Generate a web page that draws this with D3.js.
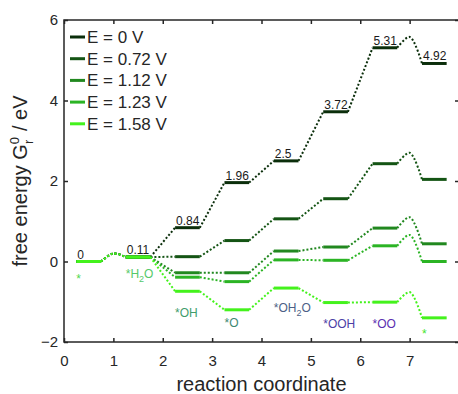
<!DOCTYPE html>
<html>
<head>
<meta charset="utf-8">
<script src="https://cdn.jsdelivr.net/npm/d3@7"></script>
<style>
    body { margin: 0; background: #fff; }
    svg text { font-family: "Liberation Sans", Arial, Helvetica, sans-serif; }
</style>
</head>
<body>
<div class="chart"></div>
<script>
"use strict";

// potentials (legend) and free energy of each step
var potentials = ["E = 0 V", "E = 0.72 V", "E = 1.12 V", "E = 1.23 V", "E = 1.58 V"];
var energyE000 = [0, 0.11, 0.84, 1.96, 2.50, 3.72, 5.31, 4.92];
var energyE072 = [0, 0.11, 0.12, 0.52, 1.06, 1.56, 2.43, 2.04];
var energyE112 = [0, 0.11, -0.28, -0.28, 0.26, 0.36, 0.83, 0.44];
var energyE123 = [0, 0.11, -0.39, -0.50, 0.04, 0.03, 0.39, 0.00];
var energyE158 = [0, 0.11, -0.74, -1.20, -0.66, -1.02, -1.01, -1.40];

// barrier tops (step 0->1 and step 6->7)
var barrierFirst = [0.20, 0.20, 0.20, 0.20, 0.20];
var barrierLast = [5.58, 2.70, 1.10, 0.66, -0.76];

// intermediates written under the levels
var species = ["*", "*H2O", "*OH", "*O", "*OH2O", "*OOH", "*OO", "*"];
var valueLabels = ["0", "0.11", "0.84", "1.96", "2.5", "3.72", "5.31", "4.92"];

var xTicks = [0, 1, 2, 3, 4, 5, 6, 7];
var yTicks = [-2, 0, 2, 4, 6];

var allEnergies = [energyE000, energyE072, energyE112, energyE123, energyE158];

var colors = ["#0b2e0b", "#145414", "#21881f", "#2bb424", "#44f21c"];
var speciesColors = ["#4fd84f", "#55c96a", "#3f9d6b", "#3e8872", "#4d5f86", "#4b3ea6", "#5b2fb0", "#44e42c"];
var speciesY = [-0.53, -0.41, -1.37, -1.63, -1.25, -1.64, -1.64, -1.90];

var width = 458, height = 394;
var margin = { top: 20, left: 64, bottom: 52, right: -1 };
var plotW = width - margin.left - margin.right;
var plotH = height - margin.top - margin.bottom;

var svg = d3.select(".chart").append("svg")
    .attr("width", width)
    .attr("height", height);

var g = svg.append("g")
    .attr("transform", "translate(" + margin.left + "," + margin.top + ")");

var x = d3.scaleLinear().domain([0, 8]).range([0, plotW]);
var y = d3.scaleLinear().domain([-2, 6]).range([plotH, 0]);

var axisColor = "#262626";

// connectors (dotted) first, then level bars
var line = d3.line()
    .x(function(d) { return x(d[0]); })
    .y(function(d) { return y(d[1]); })
    .curve(d3.curveCatmullRom.alpha(0.5));

allEnergies.forEach(function(vals, s)
{
    for (var k = 0; k < vals.length - 1; k++)
    {
        var pts = [[k + 0.75, vals[k]]];
        if (k == 0)
            pts.push([k + 1, barrierFirst[s]]);
        if (k == 6)
            pts.push([k + 1, barrierLast[s]]);
        pts.push([k + 1.25, vals[k + 1]]);

        g.append("path")
            .attr("d", line(pts))
            .attr("fill", "none")
            .attr("stroke", colors[s])
            .attr("stroke-width", 2)
            .attr("stroke-dasharray", "2,2");
    }

    g.selectAll(".lvl" + s)
        .data(vals)
        .enter()
        .append("line")
        .attr("class", "lvl" + s)
        .attr("x1", function(d, i) { return x(i + 0.25); })
        .attr("x2", function(d, i) { return x(i + 0.75); })
        .attr("y1", function(d) { return y(d); })
        .attr("y2", function(d) { return y(d); })
        .attr("stroke", colors[s])
        .attr("stroke-width", 3);
});

// numbers over the E = 0 levels
g.selectAll(".valueLabel")
    .data(energyE000)
    .enter()
    .append("text")
    .attr("class", "valueLabel")
    .attr("x", function(d, i) { return x(i + 0.25) + 1; })
    .attr("y", function(d) { return y(d) - 3; })
    .attr("font-size", "12px")
    .attr("fill", "#1a1a1a")
    .text(function(d, i) { return valueLabels[i]; });

// species names
species.forEach(function(name, i)
{
    var t = g.append("text")
        .attr("x", x(i + 0.25))
        .attr("y", y(speciesY[i]))
        .attr("font-size", "12px")
        .attr("fill", speciesColors[i]);

    var m = name.match(/^(.*H)2(O)$/);
    if (m)
    {
        t.append("tspan").text(m[1]);
        t.append("tspan").attr("dy", 4).attr("font-size", "9px").text("2");
        t.append("tspan").attr("dy", -4).text(m[2]);
    }
    else
        t.text(name);
});

// axes, ticks pointing inward on all four sides
var xAxis = d3.axisBottom(x).tickValues(xTicks).tickSizeInner(-4).tickSizeOuter(0).tickPadding(13);
var yAxis = d3.axisLeft(y).tickValues(yTicks).tickSizeInner(-4).tickSizeOuter(0).tickPadding(6);
var xTop = d3.axisTop(x).tickValues(xTicks).tickSizeInner(-4).tickSizeOuter(0).tickFormat("");
var yRight = d3.axisRight(y).tickValues(yTicks).tickSizeInner(-4).tickSizeOuter(0).tickFormat("");

function styleAxis(sel)
{
    sel.select(".domain").remove();
    sel.selectAll("line").attr("stroke", axisColor).attr("stroke-width", 1.5);
    sel.selectAll("text").attr("fill", axisColor).attr("font-size", "15px")
        .attr("font-family", "'Liberation Sans', Arial, sans-serif");
}

g.append("g").attr("transform", "translate(0," + plotH + ")").call(xAxis).call(styleAxis);
g.append("g").call(yAxis).call(styleAxis);
g.append("g").call(xTop).call(styleAxis);
g.append("g").attr("transform", "translate(" + plotW + ",0)").call(yRight).call(styleAxis);

g.append("rect")
    .attr("width", plotW)
    .attr("height", plotH)
    .attr("fill", "none")
    .attr("stroke", axisColor)
    .attr("stroke-width", 1.5);

// axis titles
g.append("text")
    .attr("x", plotW / 2)
    .attr("y", plotH + 49)
    .attr("text-anchor", "middle")
    .attr("font-size", "20px")
    .attr("fill", axisColor)
    .text("reaction coordinate");

var yTitle = svg.append("text")
    .attr("transform", "translate(27," + (margin.top + plotH / 2) + ") rotate(-90)")
    .attr("text-anchor", "middle")
    .attr("font-size", "20px")
    .attr("fill", axisColor);
yTitle.append("tspan").text("free energy G");
yTitle.append("tspan").attr("dy", -8).attr("font-size", "13px").text("0");
yTitle.append("tspan").attr("dx", -7).attr("dy", 14).attr("font-size", "13px").text("r");
yTitle.append("tspan").attr("dx", 3).attr("dy", -6).text(" / eV");

// legend
var legend = g.selectAll(".legendItem")
    .data(potentials)
    .enter()
    .append("g")
    .attr("class", "legendItem")
    .attr("transform", function(d, i) { return "translate(6," + (17 + i * 21.7) + ")"; });

legend.append("line")
    .attr("x1", 0)
    .attr("x2", 15)
    .attr("stroke", function(d, i) { return colors[i]; })
    .attr("stroke-width", 3);

legend.append("text")
    .attr("x", 17)
    .attr("y", 6)
    .attr("font-size", "17px")
    .attr("fill", axisColor)
    .text(function(d) { return d; });
</script>
</body>
</html>
